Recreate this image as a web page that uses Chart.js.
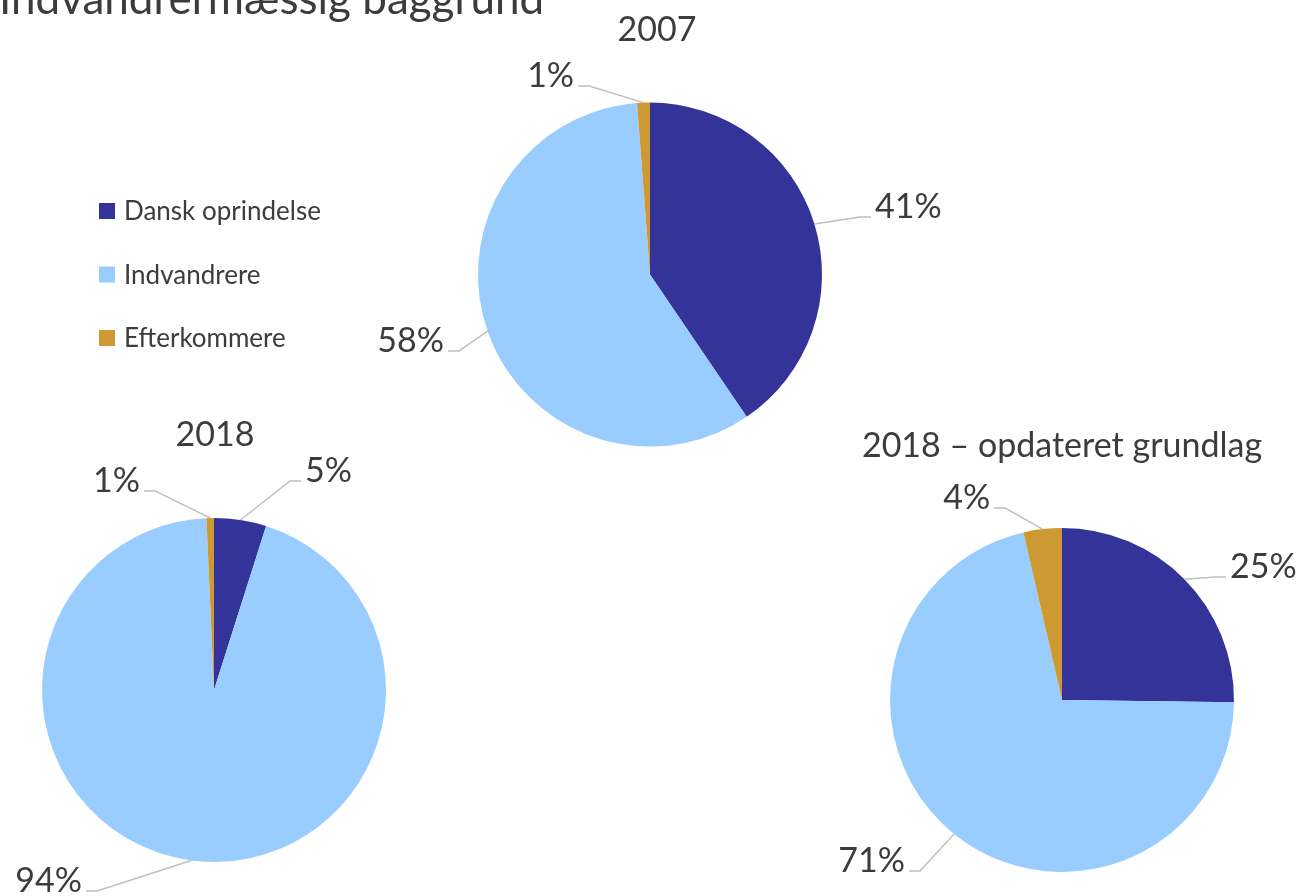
<!DOCTYPE html>
<html><head><meta charset="utf-8">
<script src="https://cdn.jsdelivr.net/npm/chart.js@4"></script>
<style>
html,body{margin:0;padding:0;background:#fff;}
#wrap{position:relative;width:1302px;height:896px;overflow:hidden;background:#fff;}
#wrap canvas{position:absolute;left:0;top:0;}
</style></head><body>
<div id="wrap">
<canvas id="c2007" width="1302" height="896"></canvas>
<canvas id="c2018" width="1302" height="896"></canvas>
<canvas id="c2018u" width="1302" height="896"></canvas>
</div>
<script>
// ---- data ----
const pageTitle = 'Indvandrermæssig baggrund';
const categories = ['Dansk oprindelse', 'Indvandrere', 'Efterkommere'];
const chartTitles = ['2007', '2018', '2018 – opdateret grundlag'];
const values2007 = [40.5, 58.3, 1.2];
const values2018 = [4.9, 94.4, 0.7];
const values2018Updated = [25.2, 71.2, 3.6];

// ---- style ----
const colors = ['#333399', '#99CCFF', '#CC9933'];
const textColor = '#3c3c3c';
const W = 1302, H = 896;
const FONT = 'Lato, "Open Sans", sans-serif';

const pieLabels = {
  id: 'pieLabels',
  afterDatasetsDraw(chart, args, opts) {
    const ctx = chart.ctx;
    const meta = chart.getDatasetMeta(0);
    const vals = chart.data.datasets[0].data;
    const total = vals.reduce((a, b) => a + b, 0);
    ctx.save();
    let cx = 0, cy = 0, R = 0;
    meta.data.forEach((arc, i) => {
      const p = arc.getProps(['x', 'y', 'startAngle', 'endAngle', 'outerRadius'], true);
      cx = p.x; cy = p.y; R = p.outerRadius;
      const mid = (p.startAngle + p.endAngle) / 2;
      const sx = p.x + R * Math.cos(mid), sy = p.y + R * Math.sin(mid);
      const [deg, f] = opts.elbows[i];
      const th = deg * Math.PI / 180;
      const ex = p.x + f * R * Math.sin(th), ey = p.y - f * R * Math.cos(th);
      const dir = ex >= p.x ? 1 : -1;
      const tx = ex + dir * opts.tail;
      ctx.strokeStyle = '#BFBFBF';
      ctx.lineWidth = 1.5;
      ctx.beginPath();
      ctx.moveTo(sx, sy); ctx.lineTo(ex, ey); ctx.lineTo(tx, ey);
      ctx.stroke();
      ctx.fillStyle = textColor;
      ctx.font = '34px ' + FONT;
      ctx.textAlign = dir > 0 ? 'left' : 'right';
      ctx.textBaseline = 'alphabetic';
      ctx.fillText(Math.round(vals[i] / total * 100) + '%', tx + dir * 4, ey + 1);
    });
    // chart title
    ctx.fillStyle = textColor;
    ctx.font = '34px ' + FONT;
    ctx.textAlign = 'center';
    ctx.textBaseline = 'alphabetic';
    ctx.fillText(opts.title, cx + opts.titleDx, cy - R - opts.titleGap);
    ctx.restore();
  }
};

const pageDecor = {
  id: 'pageDecor',
  afterDraw(chart, args, opts) {
    if (!opts.show) return;
    const ctx = chart.ctx;
    ctx.save();
    ctx.fillStyle = textColor;
    ctx.font = '44px ' + FONT;
    ctx.textAlign = 'left';
    ctx.textBaseline = 'alphabetic';
    ctx.fillText(pageTitle, -1, 14);
    // legend
    const rows = [211, 274.5, 338];
    ctx.font = '26px ' + FONT;
    ctx.textBaseline = 'middle';
    categories.forEach((c, i) => {
      ctx.fillStyle = colors[i];
      ctx.fillRect(99, rows[i] - 8, 16, 16);
      ctx.fillStyle = textColor;
      ctx.fillText(c, 124, rows[i] + 1);
    });
    ctx.restore();
  }
};

function makePie(id, values, title, cx, cy, R, elbows, titleGap, titleDx, decor) {
  new Chart(document.getElementById(id), {
    type: 'pie',
    data: {
      labels: categories,
      datasets: [{ data: values, backgroundColor: colors, borderWidth: 0, hoverOffset: 0 }]
    },
    options: {
      responsive: false,
      animation: false,
      devicePixelRatio: 1,
      events: [],
      layout: { padding: { left: cx - R, top: cy - R, right: W - cx - R, bottom: H - cy - R } },
      plugins: {
        legend: { display: false },
        tooltip: { enabled: false },
        pieLabels: { elbows, tail: 11, title, titleGap, titleDx },
        pageDecor: { show: decor }
      }
    },
    plugins: [pieLabels, pageDecor]
  });
}

makePie('c2007', values2007, chartTitles[0], 650, 274.5, 172,
  [[74.7, 1.266], [248.2, 1.196], [342.1, 1.152]], 62, 7, true);
makePie('c2018', values2018, chartTitles[1], 214, 690, 172,
  [[20.0, 1.293], [210.2, 1.352], [343.5, 1.207]], 72, 1, false);
makePie('c2018u', values2018Updated, chartTitles[2], 1062, 700, 172,
  [[51.2, 1.141], [219.7, 1.292], [343.5, 1.164]], 71, 0, false);
</script>
</body></html>
